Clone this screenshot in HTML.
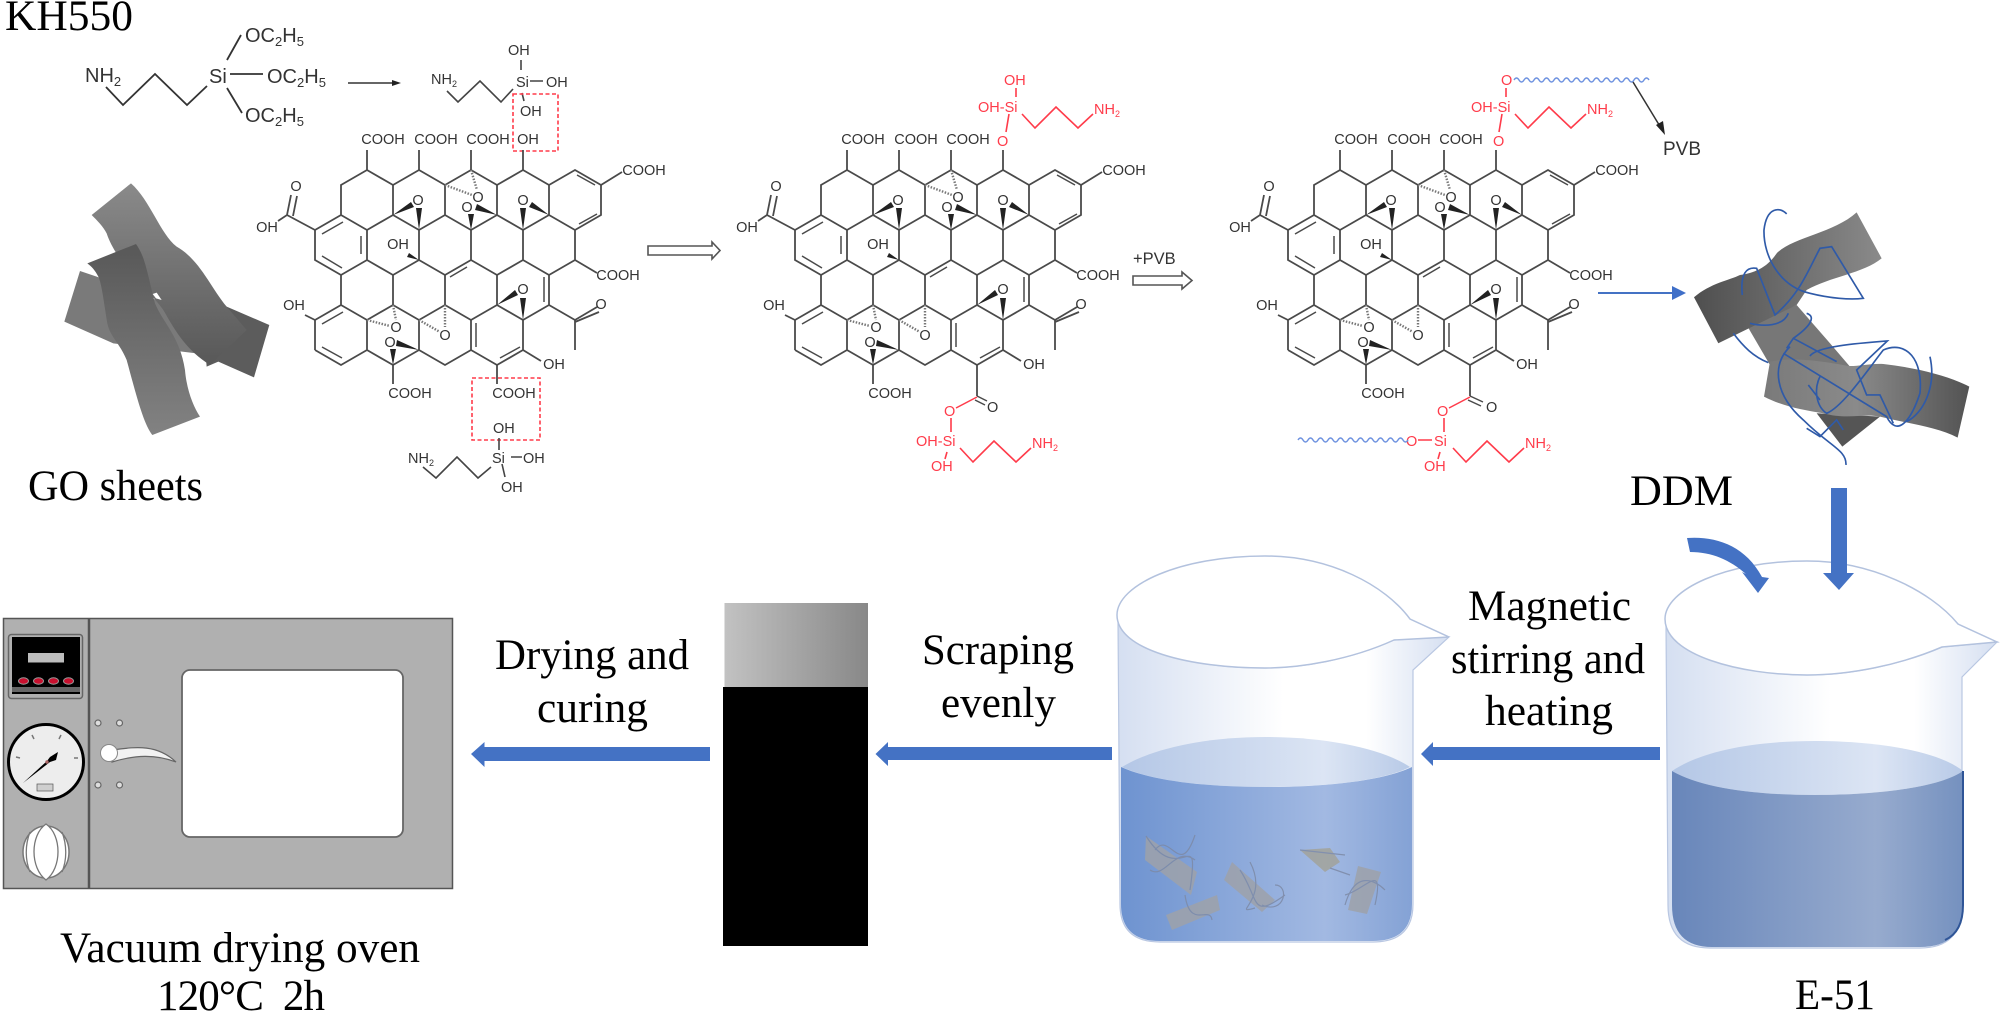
<!DOCTYPE html>
<html><head><meta charset="utf-8"><style>
html,body{margin:0;padding:0;background:#fff}
svg{display:block}
.s{font-family:"Liberation Sans",sans-serif;font-size:14.5px;fill:#333}
.m text{text-anchor:middle}
.r{font-family:"Liberation Sans",sans-serif;font-size:14.5px;fill:#ff3b4a}
.t{font-family:"Liberation Serif",serif;font-size:43px;fill:#000;white-space:pre}
.o{paint-order:stroke;stroke:#fff;stroke-width:2px}
.sm{font-size:9px}
.b{font-size:13.500px}
</style></head><body>
<svg width="2000" height="1015" viewBox="0 0 2000 1015" xmlns="http://www.w3.org/2000/svg">
<defs>
<linearGradient id="g1" x1="0" y1="0" x2="0" y2="1"><stop offset="0" stop-color="#8a8a8a"/><stop offset="1" stop-color="#585858"/></linearGradient>
<linearGradient id="g2" x1="0" y1="0" x2="0" y2="1"><stop offset="0" stop-color="#585858"/><stop offset="1" stop-color="#828282"/></linearGradient>
<linearGradient id="g3" x1="0" y1="0" x2="1" y2="0"><stop offset="0" stop-color="#4f4f4f"/><stop offset="1" stop-color="#8a8a8a"/></linearGradient>
<linearGradient id="g4" x1="0" y1="0" x2="1" y2="0"><stop offset="0" stop-color="#7a7a7a"/><stop offset=".45" stop-color="#8a8a8a"/><stop offset="1" stop-color="#535353"/></linearGradient>
<linearGradient id="pan" x1="0" y1="0" x2="1" y2="0"><stop offset="0" stop-color="#c2c2c2"/><stop offset="1" stop-color="#888"/></linearGradient>
<linearGradient id="gl" x1="0" y1="0" x2="1" y2="0"><stop offset="0" stop-color="#d5dff1"/><stop offset=".5" stop-color="#fff"/><stop offset=".75" stop-color="#fff"/><stop offset="1" stop-color="#d5dff1"/></linearGradient>
<linearGradient id="el" x1="0" y1="0" x2="1" y2="0"><stop offset="0" stop-color="#b4c7e6"/><stop offset=".7" stop-color="#dce5f4"/><stop offset="1" stop-color="#b8cae7"/></linearGradient>
<linearGradient id="l1" x1="0" y1="0" x2="1" y2="0"><stop offset="0" stop-color="#6e93d0"/><stop offset=".7" stop-color="#a2b9e2"/><stop offset="1" stop-color="#84a2d5"/></linearGradient>
<linearGradient id="l2" x1="0" y1="0" x2="1" y2="0"><stop offset="0" stop-color="#6886ba"/><stop offset=".7" stop-color="#97abce"/><stop offset="1" stop-color="#7591bf"/></linearGradient>
<g id="sk" fill="none" stroke="#4a4a4a" stroke-width="1.8">
<path d="M341,215L341,185L367,170L393,185L419,170L445,185L471,170L497,185L523,170L549,185L575,170L601,185L601,215L575,230L549,215L523,230L497,215L471,230L445,215L419,230L393,215L367,230L341,215L315,230L315,260L341,275L367,260L393,275L419,260L445,275L471,260L497,275L523,260L549,275L575,260L575,230M367,230V260M419,230V260M471,230V260M523,230V260M393,185V215M445,185V215M497,185V215M549,185V215M341,275V305M393,275V305M445,275V305M497,275V305M549,275V305M315,320L341,305L367,320L393,305L419,320L445,305L471,320L497,305L523,320L549,305M315,320V350M367,320V350M419,320V350M471,320V350M523,320V350M315,350L341,365L367,350L393,365L419,350L445,365L471,350L497,365L523,350"/>
<path d="M367,170V150M419,170V150M471,170V150M523,170V150M393,365V384M315,230L287,215L278,221M287,215L291,195M293,216L297,196M315,320L305,315M601,185L622,172M575,260L597,273M549,305L575,320L597,307M575,322L599,312M575,320V350M523,350L541,361"/>
<path d="M343,222L322,234M361,236V254M322,256L342,268M450,277L467,267M579,224L597,214M577,175L595,185M343,312L322,324M322,347L342,358M476,323V347M500,358L520,347M544,277V302" stroke-width="1.5"/>
<path d="M445,185L472,195M471,170L477,190M367,320L390,326M393,305L396,320M419,320L440,332M445,305V327" stroke-dasharray="1.5 1.5" stroke-width="2.4" stroke="#777"/>
<g fill="#222" stroke="none">
<path d="M393,215L411,202L414,207ZM419,230L416,208H422ZM497,215L477,204L475,210ZM471,230L468,214H474ZM549,215L532,202L529,207ZM523,230L520,208H526ZM419,260L409,253L407,257ZM497,305L515,290L518,295ZM523,320L520,298H526ZM419,350L397,340L396,346ZM393,365L390,349H396Z"/>
</g>
</g>
</defs>

<!-- top left -->
<text class="t" x="5" y="30" textLength="128" lengthAdjust="spacingAndGlyphs">KH550</text>
<g class="s" style="font-size:20px">
<text x="85" y="82">NH<tspan style="font-size:13px" dy="4">2</tspan></text>
<text x="209" y="83">Si</text>
<text x="245" y="42">OC<tspan style="font-size:13px" dy="4">2</tspan><tspan dy="-4">H</tspan><tspan style="font-size:13px" dy="4">5</tspan></text>
<text x="267" y="83">OC<tspan style="font-size:13px" dy="4">2</tspan><tspan dy="-4">H</tspan><tspan style="font-size:13px" dy="4">5</tspan></text>
<text x="245" y="122">OC<tspan style="font-size:13px" dy="4">2</tspan><tspan dy="-4">H</tspan><tspan style="font-size:13px" dy="4">5</tspan></text>
</g>
<path d="M106,87L123,105L155,74L187,105L207,86M230,74H263M227,60L241,35M227,88L242,113" fill="none" stroke="#333" stroke-width="1.8"/>
<path d="M348,83H394" stroke="#333" stroke-width="1.5"/><path d="M401,83L392,80V86Z" fill="#222"/>

<!-- silane top -->
<g class="s">
<text x="431" y="84">NH<tspan class="sm" dy="3">2</tspan></text>
<text x="516" y="87">Si</text><text x="546" y="87">OH</text><text x="508" y="55">OH</text><text x="520" y="116">OH</text>
</g>
<path d="M447,91L458,102L480,81L501,102L513,89M530,81H543M521,60V70M522,93L524,101" fill="none" stroke="#444" stroke-width="1.6"/>
<rect x="513" y="94" width="45" height="57" fill="none" stroke="#ff3b4a" stroke-width="1.6" stroke-dasharray="4 2.5"/>
<rect x="472" y="378" width="68" height="62" fill="none" stroke="#ff3b4a" stroke-width="1.6" stroke-dasharray="4 2.5"/>
<!-- silane bottom -->
<g class="s">
<text x="408" y="463">NH<tspan class="sm" dy="3">2</tspan></text>
<text x="492" y="463">Si</text><text x="523" y="463">OH</text><text x="493" y="433">OH</text><text x="501" y="492">OH</text>
</g>
<path d="M491,467L478,478L457,457L436,478L423,467M499,438V450M511,457H522M502,464L505,477" fill="none" stroke="#444" stroke-width="1.6"/>

<!-- copy 1 -->
<use href="#sk"/>
<path d="M497,365V384" stroke="#4a4a4a" stroke-width="1.8"/>
<g class="s m">
<text x="383" y="144">COOH</text><text x="436" y="144">COOH</text><text x="488" y="144">COOH</text><text x="528" y="144">OH</text>
<text x="296" y="191">O</text><text x="267" y="232">OH</text><text x="398" y="249">OH</text><text x="294" y="310">OH</text>
<text x="644" y="175">COOH</text><text x="618" y="280">COOH</text><text x="601" y="309">O</text><text x="554" y="369">OH</text>
<text x="410" y="398">COOH</text><text x="514" y="398">COOH</text>
<text class="o" x="418" y="205">O</text><text class="o" x="478" y="202">O</text><text class="o" x="467" y="212">O</text><text class="o" x="523" y="205">O</text><text class="o" x="523" y="294">O</text><text class="o" x="396" y="332">O</text><text class="o" x="390" y="347">O</text><text class="o" x="445" y="340">O</text>
</g>

<!-- copy 2 -->
<g transform="translate(480,0)">
<use href="#sk"/>
<g class="s m">
<text x="383" y="144">COOH</text><text x="436" y="144">COOH</text><text x="488" y="144">COOH</text>
<text x="296" y="191">O</text><text x="267" y="232">OH</text><text x="398" y="249">OH</text><text x="294" y="310">OH</text>
<text x="644" y="175">COOH</text><text x="618" y="280">COOH</text><text x="601" y="309">O</text><text x="554" y="369">OH</text>
<text x="410" y="398">COOH</text>
<text class="o" x="418" y="205">O</text><text class="o" x="478" y="202">O</text><text class="o" x="467" y="212">O</text><text class="o" x="523" y="205">O</text><text class="o" x="523" y="294">O</text><text class="o" x="396" y="332">O</text><text class="o" x="390" y="347">O</text><text class="o" x="445" y="340">O</text>
</g>
</g>
<path d="M977,365V396" stroke="#4a4a4a" stroke-width="1.8"/><path d="M977,396L987,401M975,400L985,405" stroke="#4a4a4a" stroke-width="1.5"/>
<path d="M977,397L956,408" stroke="#ff3b4a" stroke-width="1.5"/>
<g class="r">
<text x="987" y="412" style="fill:#333">O</text>
<text x="944" y="416">O</text>
<text x="916" y="446">OH-Si</text><text x="931" y="471">OH</text><text x="1032" y="448">NH<tspan class="sm" dy="3">2</tspan></text>
<text x="997" y="146">O</text>
<text x="978" y="112">OH-Si</text><text x="1004" y="85">OH</text><text x="1094" y="114">NH<tspan class="sm" dy="3">2</tspan></text>
</g>
<path d="M951,418V432M947,452L945,459M960,448L973,462L994,441L1016,462L1031,448M1006,132L1009,114M1016,88V97M1022,114L1035,128L1056,107L1078,128L1093,114" fill="none" stroke="#ff3b4a" stroke-width="1.6"/>

<!-- copy 3 -->
<g transform="translate(973,0)">
<use href="#sk"/>
<g class="s m">
<text x="383" y="144">COOH</text><text x="436" y="144">COOH</text><text x="488" y="144">COOH</text>
<text x="296" y="191">O</text><text x="267" y="232">OH</text><text x="398" y="249">OH</text><text x="294" y="310">OH</text>
<text x="644" y="175">COOH</text><text x="618" y="280">COOH</text><text x="601" y="309">O</text><text x="554" y="369">OH</text>
<text x="410" y="398">COOH</text>
<text class="o" x="418" y="205">O</text><text class="o" x="478" y="202">O</text><text class="o" x="467" y="212">O</text><text class="o" x="523" y="205">O</text><text class="o" x="523" y="294">O</text><text class="o" x="396" y="332">O</text><text class="o" x="390" y="347">O</text><text class="o" x="445" y="340">O</text>
</g>
</g>
<path d="M1470,365V396" stroke="#4a4a4a" stroke-width="1.8"/><path d="M1470,396L1483,402M1468,400L1481,406" stroke="#4a4a4a" stroke-width="1.5"/>
<path d="M1470,397L1449,408" stroke="#ff3b4a" stroke-width="1.5"/>
<g class="r">
<text x="1486" y="412" style="fill:#333">O</text>
<text x="1437" y="416">O</text>
<text x="1406" y="446">O</text><text x="1434" y="446">Si</text><text x="1424" y="471">OH</text><text x="1525" y="448">NH<tspan class="sm" dy="3">2</tspan></text>
<text x="1493" y="146">O</text>
<text x="1471" y="112">OH-Si</text><text x="1501" y="85">O</text><text x="1587" y="114">NH<tspan class="sm" dy="3">2</tspan></text>
</g>
<path d="M1444,418V432M1418,440H1432M1440,452L1438,459M1453,448L1466,462L1487,441L1509,462L1524,448M1499,132L1502,114M1506,88V97M1515,114L1528,128L1549,107L1571,128L1586,114" fill="none" stroke="#ff3b4a" stroke-width="1.6"/>
<path d="M1298,440q2.5,-4 5,0t5,0t5,0t5,0t5,0t5,0t5,0t5,0t5,0t5,0t5,0t5,0t5,0t5,0t5,0t5,0t5,0t5,0t5,0t5,0t5,0t5,0" fill="none" stroke="#6f93e0" stroke-width="1.4"/>
<path d="M1514,80q2.5,-4 5,0t5,0t5,0t5,0t5,0t5,0t5,0t5,0t5,0t5,0t5,0t5,0t5,0t5,0t5,0t5,0t5,0t5,0t5,0t5,0t5,0t5,0t5,0t5,0t5,0t5,0t5,0" fill="none" stroke="#6f93e0" stroke-width="1.4"/>
<path d="M1633,82L1661,128" stroke="#333" stroke-width="1.5"/><path d="M1665,135L1656,125L1663,121Z" fill="#222"/>
<text class="s" x="1663" y="155" style="font-size:19px">PVB</text>

<!-- open arrows -->
<path d="M648,246H712V242L720,250.5L712,259V255H648Z" fill="#fff" stroke="#555" stroke-width="1.6"/>
<path d="M1133,276H1182V272L1192,280.5L1182,289V285H1133Z" fill="#fff" stroke="#555" stroke-width="1.6"/>
<text class="s" x="1133" y="264" style="font-size:16.500px">+PVB</text>
<path d="M1598,293H1673" stroke="#4472c4" stroke-width="2"/><path d="M1686,293L1672,286V300Z" fill="#3f6fc8"/>

<!-- GO sheets -->
<g transform="translate(30,170) scale(.3333)">
<path d="M150,303L103,455L250,520L500,550L440,400L380,390L200,320Z" fill="#7a7a7a"/>
<path d="M560,400L590,410L718,465L672,622L565,575L530,590L520,470Z" fill="#5c5c5c"/>
<path d="M303,40C360,90 390,190 440,230C510,270 540,350 590,410L650,480L540,585C470,540 440,490 400,420C350,350 260,280 230,190C220,170 200,150 185,135Z" fill="url(#g1)"/>
<path d="M172,280L318,222C345,260 350,300 375,400C400,460 450,500 465,600C470,660 490,710 510,740L367,795C340,760 320,680 290,570C270,520 240,500 232,460C222,400 215,340 205,320C195,300 185,290 172,280Z" fill="url(#g2)"/>
<path d="M368,372L380,368L395,390L378,385Z" fill="#fff"/>
</g>
<text class="t" x="28" y="500" textLength="175" lengthAdjust="spacingAndGlyphs">GO sheets</text>

<!-- composite -->
<g transform="translate(1590,60) scale(.3333)">
<path d="M470,795L620,735L720,850L780,920L540,915Z" fill="#777"/>
<path d="M680,1060L870,1070L757,1160Z" fill="#555"/>
<path d="M540,905L522,1010C580,1040 640,1050 700,1060C770,1080 820,1060 870,1070C950,1090 1040,1100 1103,1133L1138,980C1080,950 990,925 880,912C840,910 800,920 775,918C700,905 620,890 540,905Z" fill="url(#g4)"/>
<path d="M800,457L875,595C820,640 720,650 650,690L620,735L385,850L312,712C360,670 420,660 450,645C490,640 530,625 560,580C610,530 730,520 800,457Z" fill="url(#g3)"/>
<g fill="none" stroke="#2f5aa8" stroke-width="5">
<path d="M590,462C570,440 530,440 522,510C520,590 570,680 660,700C720,715 780,720 820,715L725,560L690,565C650,640 630,700 555,765L500,625C470,620 450,640 457,705"/>
<path d="M650,760C680,770 660,800 610,835L590,865M595,760C580,800 520,800 480,790M430,820C460,860 490,890 535,908"/>
<path d="M580,880L890,1070C920,1130 960,1090 990,1000C1000,900 950,840 880,870C840,920 760,1040 710,1060C680,1040 670,990 690,950M655,975L690,1020"/>
<path d="M610,835L740,905M660,888C680,860 800,850 892,843L800,930L830,1005L870,1005L910,1090"/>
<path d="M600,860C540,920 560,1010 640,1080C720,1160 770,1170 768,1215M650,1105L690,1130L740,1080L760,1110M1020,890C1040,980 1000,1060 950,1085"/>
</g>
</g>

<!-- big arrows -->
<g fill="#4472c4">
<path d="M1660,747V760H1433V766L1421,754L1433,742V747Z"/>
<path d="M1112,747V760H888V766L875.5,754L888,742V747Z"/>
<path d="M710,747V761H484.5V767L471,754L484.5,742V747Z"/>
</g>

<!-- labels -->
<text class="t" x="1630" y="505" textLength="103" lengthAdjust="spacingAndGlyphs">DDM</text>
<text class="t" x="1468" y="620" textLength="163" lengthAdjust="spacingAndGlyphs">Magnetic</text>
<text class="t" x="1451" y="673" textLength="194" lengthAdjust="spacingAndGlyphs">stirring and</text>
<text class="t" x="1485" y="725" textLength="128" lengthAdjust="spacingAndGlyphs">heating</text>
<text class="t" x="922" y="664" textLength="152" lengthAdjust="spacingAndGlyphs">Scraping</text>
<text class="t" x="941" y="717" textLength="115" lengthAdjust="spacingAndGlyphs">evenly</text>
<text class="t" x="495" y="669" textLength="194" lengthAdjust="spacingAndGlyphs">Drying and</text>
<text class="t" x="537" y="722" textLength="111" lengthAdjust="spacingAndGlyphs">curing</text>
<text class="t" x="60" y="962" textLength="360" lengthAdjust="spacingAndGlyphs">Vacuum drying oven</text>
<text class="t" x="157" y="1010" xml:space="preserve" textLength="168" lengthAdjust="spacing">120°C  2h</text>
<text class="t" x="1795" y="1009" textLength="80" lengthAdjust="spacingAndGlyphs">E-51</text>

<!-- panel -->
<rect x="724.5" y="603" width="143.5" height="84" fill="url(#pan)"/>
<rect x="723" y="687" width="145" height="259" fill="#000"/>

<!-- beaker 1 -->
<g>
<path d="M1118,620L1120,904Q1120,942 1160,942H1373Q1413,942 1413,904V670L1449,637L1394,640C1350,660 1300,668 1265,668C1190,668 1130,650 1118,620Z" fill="url(#gl)" stroke="#b9c7e2" stroke-width="1.2"/>
<path d="M1122,767C1150,750 1200,737 1266,737C1330,737 1385,750 1410,767C1385,780 1330,787 1266,787C1200,787 1150,780 1122,767Z" fill="url(#el)"/>
<path d="M1121,767C1150,780 1200,787 1266,787C1330,787 1385,780 1412,767V904Q1412,941 1373,941H1160Q1121,941 1121,904Z" fill="url(#l1)"/>
<path d="M1117,615C1117,585 1180,556 1265,556C1330,556 1385,585 1410,619L1449,637L1394,640C1350,660 1300,668 1265,668C1190,668 1117,650 1117,615Z" fill="#fff" stroke="#b3c2de" stroke-width="1.5"/>
<g opacity=".85">
<path d="M1146,836L1197,872L1191,895L1145,860Z" fill="#9ea2aa"/><path d="M1146,836C1180,890 1200,820 1190,890M1155,850C1170,830 1180,880 1195,835M1150,870C1165,880 1175,845 1195,860" fill="none" stroke="#7d8aa6" stroke-width="1.2"/>
<path d="M1232,862L1275,900L1262,912L1224,880Z" fill="#9ea2aa"/><path d="M1240,870C1260,900 1250,920 1285,895M1250,862C1270,900 1230,915 1255,908M1262,905C1285,915 1290,885 1275,885" fill="none" stroke="#7d8aa6" stroke-width="1.2"/>
<path d="M1166,915L1217,895L1220,910L1172,930Z" fill="#9ea2aa"/><path d="M1185,895C1190,930 1210,905 1212,920" fill="none" stroke="#7d8aa6" stroke-width="1.2"/>
<path d="M1300,850L1330,848L1340,862L1325,872Z" fill="#a2a39b"/><path d="M1300,850L1345,855M1330,868L1350,875" fill="none" stroke="#7d8aa6" stroke-width="1.2"/>
<path d="M1358,866L1381,872L1367,914L1348,910Z" fill="#9ea2aa"/><path d="M1345,905C1355,870 1375,880 1385,890M1345,895C1365,890 1385,860 1375,905" fill="none" stroke="#7d8aa6" stroke-width="1.2"/>
</g>
</g>

<!-- beaker 2 -->
<g>
<path d="M1666,625L1668,905Q1668,948 1710,948H1920Q1962,948 1962,905V677L1997,642L1942,647C1900,665 1850,675 1807,675C1740,675 1680,650 1666,625Z" fill="url(#gl)" stroke="#b9c7e2" stroke-width="1.2"/>
<path d="M1672,771C1700,752 1750,741 1815,741C1880,741 1940,752 1963,771C1940,787 1880,795 1815,795C1750,795 1700,787 1672,771Z" fill="url(#el)"/>
<path d="M1672,771C1700,787 1750,795 1815,795C1880,795 1940,787 1963,771V905Q1963,947 1920,947H1712Q1672,947 1672,905Z" fill="url(#l2)"/>
<path d="M1963,771V905Q1963,932 1945,940" fill="none" stroke="#2f5597" stroke-width="2"/>
<path d="M1665,619C1665,590 1725,561 1807,561C1870,561 1930,590 1958,624L1997,642L1942,647C1900,665 1850,675 1807,675C1740,675 1665,655 1665,619Z" fill="#fff" stroke="#b3c2de" stroke-width="1.5"/>
</g>
<!-- arrows over rim -->
<g fill="#4472c4">
<path d="M1831,488H1847V573H1854L1839,590L1823,573H1831Z"/>
<path d="M1687,538C1715,536 1745,545 1762,577L1769,578L1758,593L1742,572L1746,574C1730,560 1712,552 1690,552Z"/>
</g>

<!-- oven -->
<g>
<rect x="3.5" y="618.5" width="449" height="270" fill="#b0b0b0" stroke="#555" stroke-width="1.5"/>
<path d="M89,618V888" stroke="#555" stroke-width="2.5"/>
<rect x="8.5" y="634.5" width="74" height="64" rx="3" fill="#b0b0b0" stroke="#666" stroke-width="1.5"/>
<rect x="12" y="637" width="68" height="57" fill="#000"/>
<rect x="12" y="687" width="68" height="5" fill="#666"/>
<rect x="28" y="653" width="36" height="9.5" fill="#bdbdbd"/>
<g fill="#c8102e" stroke="#999" stroke-width="1"><ellipse cx="23.5" cy="681" rx="5" ry="3.2"/><ellipse cx="38.5" cy="681" rx="5" ry="3.2"/><ellipse cx="53.5" cy="681" rx="5" ry="3.2"/><ellipse cx="68.5" cy="681" rx="5" ry="3.2"/></g>
<circle cx="46" cy="762" r="37.5" fill="#ededed" stroke="#000" stroke-width="3"/>
<path d="M23,783L47,761L50,757L58,752L56,760L50,762Z" fill="#000"/><circle cx="47" cy="762" r="1.7" fill="#a66"/>
<rect x="37" y="784" width="16" height="7" fill="#cfcfcf" stroke="#555" stroke-width=".7"/>
<path d="M16,757L20,758M32,735L34,739M61,735L59,739M74,758L78,758" stroke="#777" stroke-width="1.5"/>
<ellipse cx="46" cy="852" rx="23" ry="26" fill="#fff" stroke="#777" stroke-width="1.5"/>
<path d="M46,824C30,835 30,868 46,880C62,868 62,835 46,824ZM30,832C25,845 25,860 30,872M62,832C67,845 67,860 62,872" fill="#fff" stroke="#777" stroke-width="1.3"/>
<g fill="#ddd" stroke="#666" stroke-width="1.2"><circle cx="98" cy="723" r="3"/><circle cx="119.500" cy="723" r="3"/><circle cx="98" cy="785" r="3"/><circle cx="119.500" cy="785" r="3"/></g>
<path d="M112,750C130,748 155,742 176,762C155,754 135,755 112,762Z" fill="#f2f2f2" stroke="#666" stroke-width="1.2"/>
<circle cx="109" cy="753" r="8.500" fill="#fff" stroke="#888" stroke-width="1"/>
<rect x="182" y="670" width="221" height="167" rx="8" fill="#fff" stroke="#666" stroke-width="1.8"/>
</g>
</svg>
</body></html>
